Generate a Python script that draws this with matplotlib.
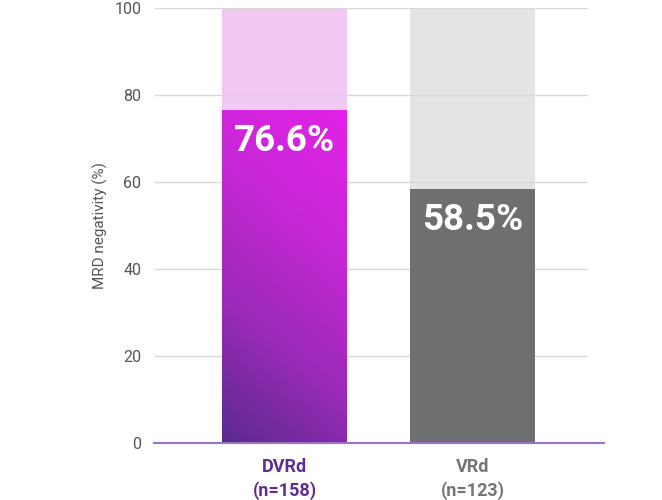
import matplotlib.pyplot as plt
import numpy as np
from matplotlib.colors import LinearSegmentedColormap
from matplotlib.patches import Rectangle

plt.rcParams["font.family"] = ["Roboto", "DejaVu Sans"]

groups = ["DVRd", "VRd"]
n_labels = ["(n=158)", "(n=123)"]
values = [76.6, 58.5]
yticks = [0, 20, 40, 60, 80, 100]
ylabel = "MRD negativity (%)"

bg_colors = ["#f1c9f3", "#e4e4e4"]
label_colors = ["#5e2d91", "#747474"]
grad = LinearSegmentedColormap.from_list(
    "dvrd", ["#5a2a8e", "#9b2ab8", "#c727d6", "#e322e8"]
)

fig = plt.figure(figsize=(6.62, 5.0), dpi=100)
ax = fig.add_axes([154 / 662, 57 / 500, 450 / 662, 435 / 500])

x = np.arange(len(groups))
width = 0.665

ax.set_xlim(-0.694, 1.7)
ax.set_ylim(0, 100)

# light background bars up to 100
ax.bar(x, [100] * len(x), width=width, color=bg_colors, zorder=1)

# grid lines drawn over the light bars
for t in yticks[1:]:
    ax.hlines(t, -0.694, 1.609, color="#d8d8d8", lw=1, zorder=2)

# DVRd gradient bar
x0 = x[0] - width / 2
rect = Rectangle((x0, 0), width, values[0], facecolor="none", edgecolor="none", zorder=3)
ax.add_patch(rect)
ny, nx = 200, 80
yy, xx = np.mgrid[0:1:ny * 1j, 0:1:nx * 1j]
# pixel space: bar ~125px wide, ~333px tall
tt = (xx * 125 * 0.8 + yy * 333) / (125 * 0.8 + 333)
img = ax.imshow(tt, cmap=grad, origin="lower", aspect="auto",
                extent=[x0, x0 + width, 0, values[0]], zorder=3, vmin=0, vmax=1)
img.set_clip_path(rect)

# VRd bar
ax.bar(x[1], values[1], width=width, color="#6e6f71", zorder=3)

for i, v in enumerate(values):
    ax.text(x[i], v - 3, f"{v}%", ha="center", va="top", color="white",
            fontsize=26.5, fontweight="bold", zorder=4)

ax.set_yticks(yticks)
ax.set_yticklabels([str(t) for t in yticks], color="#555555", fontsize=11.5)
ax.tick_params(axis="y", length=0, pad=9)
ax.set_xticks([])
ax.set_ylabel(ylabel, color="#555555", fontsize=11, labelpad=5)

for s in ["top", "right", "left"]:
    ax.spines[s].set_visible(False)
ax.spines["bottom"].set_color("#9b72c9")
ax.spines["bottom"].set_linewidth(1.5)
ax.spines["bottom"].set_zorder(5)

for i in range(len(groups)):
    ax.text(x[i], -3.5, groups[i] + "\n" + n_labels[i], ha="center", va="top",
            color=label_colors[i], fontsize=13, fontweight="bold",
            linespacing=1.35, transform=ax.transData, clip_on=False)

fig.savefig("out.png", dpi=100)
